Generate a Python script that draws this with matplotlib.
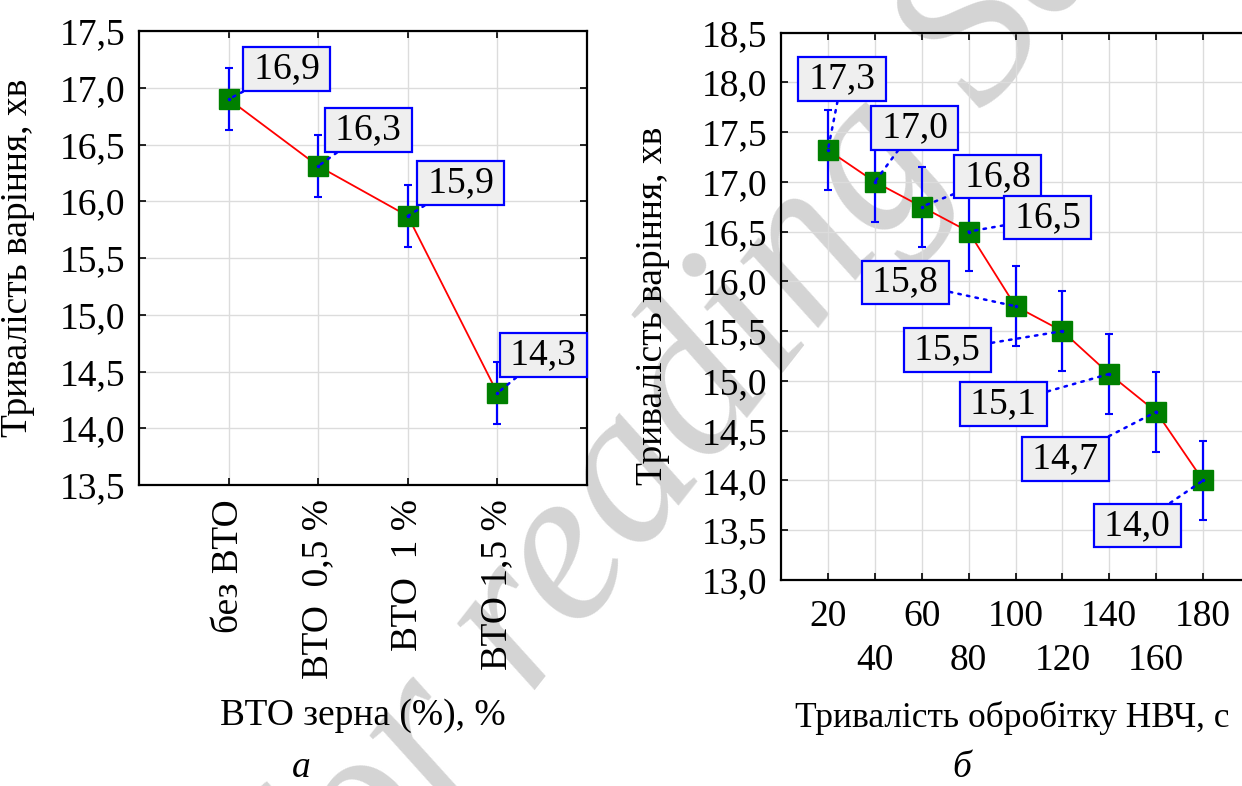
import matplotlib
matplotlib.use('Agg')
import matplotlib.pyplot as plt

plt.rcParams['font.family'] = ['Liberation Serif', 'DejaVu Serif']
plt.rcParams['font.size'] = 27

# panel a: grain treatment
cats_a = ['без ВТО', 'ВТО  0,5 %', 'ВТО  1 %', 'ВТО 1,5 %']
vals_a = [16.9, 16.31, 15.87, 14.31]
err_a = [0.27, 0.27, 0.27, 0.27]
labels_a = ['16,9', '16,3', '15,9', '14,3']

# panel b: microwave time
time_b = [20, 40, 60, 80, 100, 120, 140, 160, 180]
vals_b = [17.32, 17.0, 16.75, 16.5, 15.75, 15.5, 15.07, 14.69, 14.0]
err_b = [0.4, 0.4, 0.4, 0.4, 0.4, 0.4, 0.4, 0.4, 0.4]
labels_b = ['17,3', '17,0', '16,8', '16,5', '15,8', '15,5', '15,1', '14,7', '14,0']

yticks_a = [13.5, 14.0, 14.5, 15.0, 15.5, 16.0, 16.5, 17.0, 17.5]
yticks_b = [13.0, 13.5, 14.0, 14.5, 15.0, 15.5, 16.0, 16.5, 17.0, 17.5, 18.0, 18.5]

# label box offsets from the points, in pixels
off_a = [(58, 30), (50, 36), (53, 33), (46, 38)]
off_b = [(14, 71), (40, 54), (76, 30), (79, 14), (-110, 24),
         (-115, -19), (-106, -30), (-91, -47), (-66, -45)]

W, H = 1242, 786
fig = plt.figure(figsize=(W / 100, H / 100), dpi=100)

# watermark behind everything
fig.text(336 / W, 1 - 945 / H, 'for reading Sample', rotation=52,
         rotation_mode='anchor', ha='left', va='baseline', fontsize=160,
         style='italic', color='#d4d4d4', zorder=-5)

ax1 = fig.add_axes([139 / W, 1 - 485 / H, 448 / W, 454 / H])
ax2 = fig.add_axes([781 / W, 1 - 580 / H, 469 / W, 547.5 / H])


def fmt(v):
    return ('%.1f' % v).replace('.', ',')


def draw(ax, x, y, err, labels, offs):
    ax.patch.set_alpha(0)
    ax.plot(x, y, color='red', lw=1.3, zorder=2)
    ax.errorbar(x, y, yerr=err, fmt='none', ecolor='blue', elinewidth=1.6,
                capsize=3, capthick=1.5, zorder=3)
    ax.plot(x, y, 's', color='#008000', ms=14, zorder=4)
    ax.plot(x, y, '.', color='blue', ms=3, zorder=5)
    for xi, yi, lb, (dx, dy) in zip(x, y, labels, offs):
        ax.annotate('\u2006' + lb + '\u2006', xy=(xi, yi), xytext=(dx, dy),
                    textcoords='offset pixels', ha='center', va='center',
                    fontsize=27, zorder=6,
                    bbox=dict(boxstyle='square,pad=0.12', fc='#efefef',
                              ec='blue', lw=1.6),
                    arrowprops=dict(arrowstyle='-', color='blue', lw=1.8,
                                    linestyle=(0, (1, 2.5)),
                                    shrinkA=0, shrinkB=0))
    ax.grid(True, color='#dcdcdc', lw=1.0)
    ax.set_axisbelow(True)
    ax.tick_params(direction='in', top=True, right=True, length=5,
                   width=1.2, labelsize=27, pad=10)
    for s in ax.spines.values():
        s.set_linewidth(1.6)


# panel a
xa = list(range(len(cats_a)))
draw(ax1, xa, vals_a, err_a, labels_a, off_a)
ax1.set_xlim(-1, 4)
ax1.set_ylim(13.5, 17.5)
ax1.set_xticks(xa)
ax1.set_xticklabels(cats_a, rotation=90)
ax1.set_yticks(yticks_a)
ax1.set_yticklabels([fmt(v) for v in yticks_a])
ax1.set_ylabel('Тривалість варіння, хв', fontsize=27)
ax1.yaxis.set_label_coords(-0.232, 0.5)
ax1.set_xlabel('ВТО зерна (%), %', fontsize=27)
ax1.xaxis.label.set_va('center')
ax1.xaxis.set_label_coords(0.5, (485 - 716) / 454)

# panel b
draw(ax2, time_b, vals_b, err_b, labels_b, off_b)
ax2.set_xlim(0, 200)
ax2.set_ylim(13.0, 18.5)
ax2.set_xticks(time_b)
ax2.set_xticklabels([str(t) if i % 2 == 0 else '\n' + str(t)
                     for i, t in enumerate(time_b)])
for t in ax2.get_xticklabels():
    t.set_linespacing(1.35)
ax2.tick_params(axis='x', pad=14)
ax2.set_yticks(yticks_b)
ax2.set_yticklabels([fmt(v) for v in yticks_b])
ax2.set_ylabel('Тривалість варіння, хв', fontsize=27)
ax2.yaxis.set_label_coords(-0.237, 0.5)
ax2.set_xlabel('Тривалість обробітку НВЧ, с', fontsize=25.5)
ax2.xaxis.label.set_va('center')
ax2.xaxis.set_label_coords((1012 - 781) / 469, (580 - 718) / 547.5)

fig.text(301 / W, 1 - 768 / H, 'а', style='italic', fontsize=27,
         ha='center', va='center')
fig.text(962 / W, 1 - 768 / H, 'б', style='italic', fontsize=27,
         ha='center', va='center')

fig.savefig('out.png', dpi=100)
